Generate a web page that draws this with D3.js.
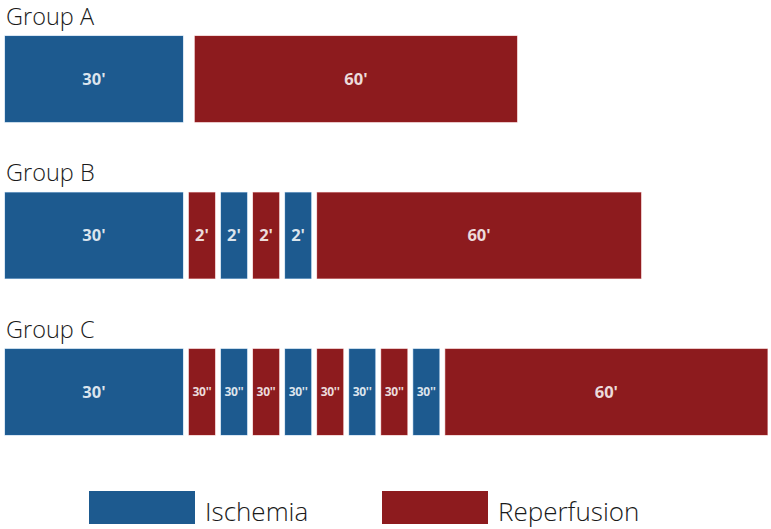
<!DOCTYPE html>
<html>
<head>
<meta charset="utf-8">
<script src="https://cdn.jsdelivr.net/npm/d3@7/dist/d3.min.js"></script>
<style>
  html, body { margin: 0; padding: 0; background: #ffffff; }
  svg { display: block; }
</style>
</head>
<body>
<svg id="chart" width="771" height="529"></svg>
<script>
// ---- data ----
const groups = ["Group A", "Group B", "Group C"];
const phaseTypes = ["Ischemia", "Reperfusion"];

// phase sequence of each group (type, label, schematic span)
const groupATypes  = ["Ischemia", "Reperfusion"];
const groupALabels = ["30'", "60'"];
const groupASpans  = [30, 54.3];

const groupBTypes  = ["Ischemia", "Reperfusion", "Ischemia", "Reperfusion", "Ischemia", "Reperfusion"];
const groupBLabels = ["30'", "2'", "2'", "2'", "2'", "60'"];
const groupBSpans  = [30, 4.4, 4.4, 4.4, 4.4, 54.6];

const groupCTypes  = ["Ischemia", "Reperfusion", "Ischemia", "Reperfusion", "Ischemia",
                      "Reperfusion", "Ischemia", "Reperfusion", "Ischemia", "Reperfusion"];
const groupCLabels = ["30'", "30''", "30''", "30''", "30''", "30''", "30''", "30''", "30''", "60'"];
const groupCSpans  = [30, 4.4, 4.4, 4.4, 4.4, 4.4, 4.4, 4.4, 4.4, 54.3];

const groupGaps = [2, 1, 1]; // spacing between blocks, in the same schematic units

// ---- layout ----
const colors = d3.scaleOrdinal().domain(phaseTypes).range(["#1d5a8f", "#8d1b1e"]);
const x = d3.scaleLinear().domain([0, 30]).range([5, 5 + 178]);
const y = d3.scaleBand().domain(groups).range([36, 435]).paddingInner(0.45).paddingOuter(0);

const svg = d3.select("#chart");
const font = "'Open Sans', 'Noto Sans', sans-serif";

const seqs = [
  {types: groupATypes, labels: groupALabels, spans: groupASpans},
  {types: groupBTypes, labels: groupBLabels, spans: groupBSpans},
  {types: groupCTypes, labels: groupCLabels, spans: groupCSpans}
];

groups.forEach((g, gi) => {
  const s = seqs[gi];
  const gap = groupGaps[gi];
  let acc = 0;
  const segs = s.types.map((t, i) => {
    const start = acc;
    acc += s.spans[i] + gap;
    return {type: t, label: s.labels[i], start: start, end: start + s.spans[i]};
  });

  const gg = svg.append("g");

  gg.append("text")
    .attr("x", 6)
    .attr("y", y(g) - 11)
    .attr("font-family", font)
    .attr("font-weight", 300)
    .attr("font-size", 23.5)
    .attr("fill", "#1a1a1a")
    .text(g);

  gg.selectAll("rect.seg").data(segs).join("rect")
    .attr("class", "seg")
    .attr("x", d => x(d.start))
    .attr("y", y(g))
    .attr("width", d => x(d.end) - x(d.start))
    .attr("height", y.bandwidth())
    .attr("fill", d => colors(d.type))
    .attr("stroke", d => d3.color(colors(d.type)).brighter(0.6))
    .attr("stroke-opacity", 0.35)
    .attr("stroke-width", 1);

  gg.selectAll("text.lab").data(segs).join("text")
    .attr("class", "lab")
    .attr("x", d => (x(d.start) + x(d.end)) / 2)
    .attr("y", y(g) + y.bandwidth() / 2)
    .attr("dy", "0.36em")
    .attr("text-anchor", "middle")
    .attr("font-family", font)
    .attr("font-weight", 700)
    .attr("font-size", d => d.label.endsWith("''") ? 12 : 16.5)
    .attr("letter-spacing", d => d.label.endsWith("''") ? -0.3 : 0)
    .attr("fill", "#ffffff")
    .attr("fill-opacity", 0.85)
    .text(d => d.label);
});

// ---- legend ----
const legendX = d3.scaleOrdinal().domain(phaseTypes).range([89, 382]);
const lg = svg.append("g");
lg.selectAll("rect").data(phaseTypes).join("rect")
  .attr("x", d => legendX(d))
  .attr("y", 491)
  .attr("width", 106)
  .attr("height", 33)
  .attr("fill", d => colors(d));
lg.selectAll("text").data(phaseTypes).join("text")
  .attr("x", d => legendX(d) + 116)
  .attr("y", 521)
  .attr("font-family", font)
  .attr("font-weight", 300)
  .attr("font-size", 26)
  .attr("fill", "#1a1a1a")
  .text(d => d);
</script>
</body>
</html>
